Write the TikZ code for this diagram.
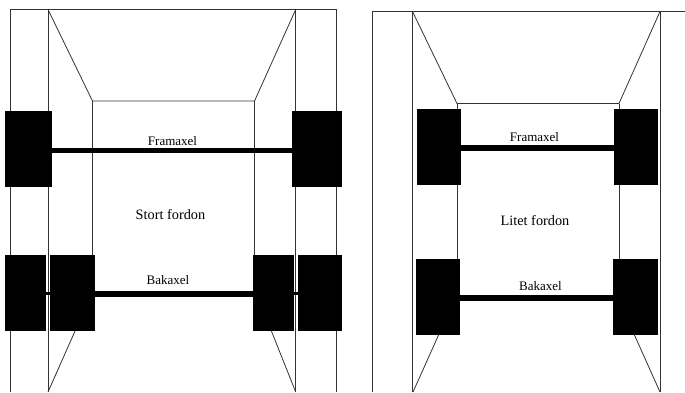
\documentclass[tikz,border=0pt]{standalone}
\usepackage{fontspec}
\setmainfont{Liberation Serif}
\tikzset{
  body/.style={draw=black!80,line width=0.8pt},
  wheel/.style={fill=black,draw=none,inner sep=0pt,outer sep=0pt,anchor=north west},
  axle/.style={draw=black,line width=4.8pt},
  stub/.style={draw=black,line width=3pt},
  axlelabel/.style={inner sep=0pt,font=\fontsize{13}{15}\selectfont,anchor=base},
  vehiclelabel/.style={inner sep=0pt,font=\fontsize{14.3}{16}\selectfont,anchor=base}
}
\newcommand{\whl}[5]{\node[wheel,minimum width=#4pt-#2pt,minimum height=#5pt-#3pt] (#1) at (#2,#3) {};}
\begin{document}
\begin{tikzpicture}[x=1pt,y=-1pt]
\useasboundingbox (0,0) rectangle (685,392);
% large vehicle
\draw[body] (10.5,392) -- (10.5,9.5) -- (336,9.5) -- (336,392);
\draw[body] (48,9.5) -- (48,392);
\draw[body] (295.7,9.5) -- (295.7,392);
\draw[body] (48,9.5) -- (92.5,101) -- (254.5,101) -- (295.7,9.5);
\draw[body] (92.5,101) -- (92.5,260);
\draw[body] (254.5,101) -- (254.5,260);
\draw[body] (75.5,330) -- (48,392);
\draw[body] (271,330) -- (295.7,392);
\whl{lfl}{5}{111}{52}{187}
\whl{lfr}{292}{111}{342}{187}
\whl{lrlo}{5}{255}{46}{331}
\whl{lrli}{50}{255}{94.5}{331}
\whl{lrri}{253}{255}{294}{331}
\whl{lrro}{298}{255}{342}{331}
\draw[axle] (lfl.east |- 0,150.8) -- (lfr.west |- 0,150.8);
\draw[axle,line width=5.6pt] (lrli.east |- 0,294) -- (lrri.west |- 0,294);
\draw[stub] (lrlo.east |- 0,293) -- (lrli.west |- 0,293);
\draw[stub] (lrri.east |- 0,293) -- (lrro.west |- 0,293);
\node[axlelabel] (lf) at (172.5,145.5) {Framaxel};
\node[axlelabel] (lb) at (168,284) {Bakaxel};
\node[vehiclelabel] (ln) at (170.5,219) {Stort fordon};
% small vehicle
\draw[body] (372,392) -- (372,11.5) -- (685,11.5);
\draw[body] (412.5,11.5) -- (412.5,392);
\draw[body] (660,11.5) -- (660,392);
\draw[body] (412.5,11.5) -- (457,103.5) -- (619,103.5) -- (660,11.5);
\draw[body] (457,103.5) -- (457,262);
\draw[body] (619,103.5) -- (619,262);
\draw[body] (439,334) -- (413,392);
\draw[body] (634,334) -- (660,392);
\whl{sfl}{416.5}{108.5}{461}{185}
\whl{sfr}{613.5}{108.5}{658}{185}
\whl{srl}{415.5}{258.5}{460}{334.5}
\whl{srr}{613}{258.5}{658}{334.5}
\draw[axle,line width=6pt] (sfl.east |- 0,148.3) -- (sfr.west |- 0,148.3);
\draw[axle,line width=6pt] (srl.east |- 0,297.5) -- (srr.west |- 0,297.5);
\node[axlelabel] (sf) at (534.5,141) {Framaxel};
\node[axlelabel] (sb) at (540.5,290) {Bakaxel};
\node[vehiclelabel] (sn) at (535,225.3) {Litet fordon};
\end{tikzpicture}
\end{document}
